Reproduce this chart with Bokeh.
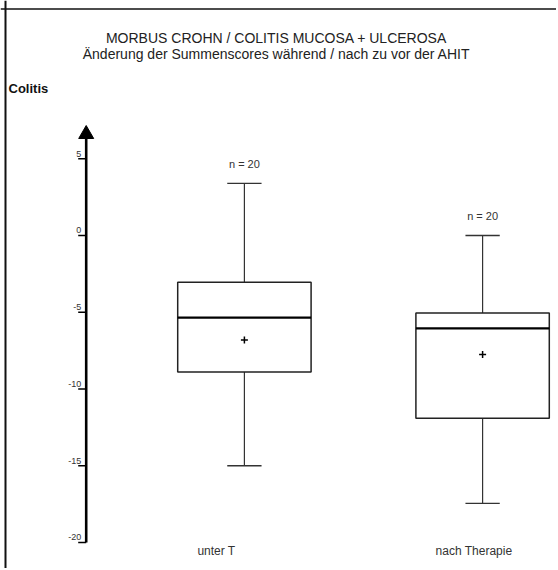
from bokeh.plotting import figure
from bokeh.models import Range1d, Label, ColumnDataSource, Span
from bokeh.embed import file_html
from bokeh.resources import INLINE
from bokeh.core.properties import value

# ---- data ----
categories = ["unter T", "nach Therapie"]
positions = [1, 2]
n_labels = ["n = 20", "n = 20"]
whisker_high = [3.4, 0.0]
q3 = [-3.05, -5.05]
median = [-5.35, -6.05]
mean = [-6.8, -7.75]
q1 = [-8.9, -11.9]
whisker_low = [-15.0, -17.45]
tick_values = [5, 0, -5, -10, -15, -20]
tick_labels = ["5", "0", "-5", "-10", "-15", "-20"]

title_line1 = "MORBUS CROHN / COLITIS MUCOSA + ULCEROSA"
title_line2 = "Änderung der Summenscores während / nach zu vor der AHIT"
panel_label = "Colitis"

FONT = "Liberation Sans"
W, H = 556, 568
X0, X1 = -0.02393, 2.31024
Y0, Y1 = -21.694, 15.309
px_x = (X1 - X0) / W
px_y = (Y1 - Y0) / H

p = figure(width=W, height=H, output_backend="svg", toolbar_location=None,
           x_range=Range1d(X0, X1), y_range=Range1d(Y0, Y1),
           x_axis_location=None, y_axis_location=None, min_border=0,
           outline_line_color=None, background_fill_color="white",
           border_fill_color="white")
p.grid.visible = False

# frame lines (left and top)
p.add_layout(Span(location=X0 + 5.0 * px_x, dimension="height", line_color="#111111", line_width=2))
p.add_layout(Span(location=Y1 - 8.5 * px_y, dimension="width", line_color="#111111", line_width=1.5))

src = ColumnDataSource(dict(pos=positions, cat=categories, n=n_labels,
                            wh=whisker_high, q3=q3, med=median, mean=mean,
                            q1=q1, wl=whisker_low))
half = 0.28
cap = 0.072

# whiskers
p.segment(x0="pos", x1="pos", y0="q3", y1="wh", source=src, line_color="#333333", line_width=1.2)
p.segment(x0="pos", x1="pos", y0="q1", y1="wl", source=src, line_color="#333333", line_width=1.2)
src.data["cl"] = [v - cap for v in positions]
src.data["cr"] = [v + cap for v in positions]
p.segment(x0="cl", x1="cr", y0="wh", y1="wh", source=src, line_color="#333333", line_width=1.3)
p.segment(x0="cl", x1="cr", y0="wl", y1="wl", source=src, line_color="#333333", line_width=1.3)
# boxes
src.data["bl"] = [v - half for v in positions]
src.data["br"] = [v + half for v in positions]
p.quad(left="bl", right="br", top="q3", bottom="q1", source=src,
       fill_color="white", line_color="#222222", line_width=1.5)
p.segment(x0="bl", x1="br", y0="med", y1="med", source=src, line_color="black", line_width=2.2)
p.scatter(x="pos", y="mean", source=src, marker="cross", size=7, line_width=1.5, line_color="black")

# n labels
p.text(x="pos", y="wh", text="n", source=src, y_offset=-19, text_align="center",
       text_baseline="middle", text_font=value(FONT), text_font_size="11px", text_color="#333333")
# category labels
src.data["ybase"] = [-20, -20]
p.text(x="pos", y="ybase", text="cat", source=src, x_offset=-47, y_offset=9,
       text_align="left", text_baseline="middle", text_font=value(FONT),
       text_font_size="12px", text_color="#333333")

# hand-drawn vertical axis with arrow
axis_x = 0.33585
tsrc = ColumnDataSource(dict(v=tick_values, lab=tick_labels,
                             xa=[axis_x] * len(tick_values),
                             xt=[axis_x - 8 * px_x] * len(tick_values)))
p.segment(x0=[axis_x], x1=[axis_x], y0=[min(tick_values)], y1=[6.4],
          line_color="black", line_width=2.6)
p.scatter(x=[axis_x], y=[6.6], marker="triangle", size=15, fill_color="black", line_color="black")
p.segment(x0="xt", x1="xa", y0="v", y1="v", source=tsrc, line_color="black", line_width=1.5)
p.text(x="xa", y="v", text="lab", source=tsrc, x_offset=-5, y_offset=-2,
       text_align="right", text_baseline="bottom", text_font=value(FONT),
       text_font_size="9px", text_color="#333333")

# titles
p.add_layout(Label(x=276, y=531, x_units="screen", y_units="screen", text=title_line1,
                   text_align="center", text_baseline="middle", text_font=FONT,
                   text_font_size="14px", text_color="#222222"))
p.add_layout(Label(x=276, y=515, x_units="screen", y_units="screen", text=title_line2,
                   text_align="center", text_baseline="middle", text_font=FONT,
                   text_font_size="14px", text_color="#222222"))
p.add_layout(Label(x=8, y=480, x_units="screen", y_units="screen", text=panel_label,
                   text_align="left", text_baseline="middle", text_font=FONT,
                   text_font_size="13px", text_font_style="bold", text_color="#111111"))

open("out.html", "w").write(file_html(p, INLINE))
